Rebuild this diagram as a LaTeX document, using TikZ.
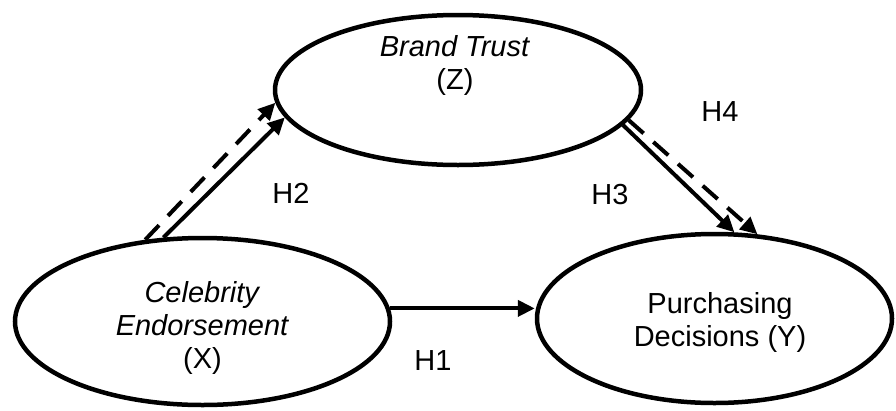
\documentclass[tikz,border=0pt]{standalone}
\usepackage{fontspec}
\setmainfont{Liberation Sans}
\usetikzlibrary{arrows.meta,shapes.geometric}
\tikzstyle{ovar}=[ellipse,draw=black,line width=4.5pt,inner sep=0pt]
\tikzstyle{otext}=[align=center,inner sep=0pt,font=\fontsize{29}{33}\selectfont]
\tikzstyle{hlab}=[inner sep=0pt,font=\fontsize{29}{33}\selectfont]
\tikzstyle{dgraph}=[-{Triangle[length=17pt,width=16pt]}, line width=4pt]
\tikzstyle{dgdash}=[dgraph,dash pattern=on 20pt off 13pt]

\begin{document}
\begin{tikzpicture}[x=1pt,y=-1pt]
\useasboundingbox (0,0) rectangle (896,410);
\node[ovar,minimum width=375pt,minimum height=167pt] (X) at (202.5,321.5) {};
\node[ovar,minimum width=366pt,minimum height=150pt] (Z) at (458,90) {};
\node[ovar,minimum width=355pt,minimum height=169pt] (Y) at (714.5,318.5) {};
\node[otext] (Xt) at (202.5,328) {\textit{Celebrity}\\\textit{Endorsement}\\(X)};
\node[otext] (Zt) at (455,65) {\textit{Brand Trust}\\(Z)};
\node[otext] (Yt) at (720,322) {Purchasing\\Decisions (Y)};
\node[hlab] (h1) at (433,361) {H1};
\node[hlab] (h2) at (291,193) {H2};
\node[hlab] (h3) at (610,195) {H3};
\node[hlab] (h4) at (720,112) {H4};
\draw[dgraph](X.4)--(X.4 -| Y.west);
\draw[dgraph](X.115)--(Z.189);\draw[dgdash](X.125)--(Z.184);
\draw[dgraph](Z.348)--(Y.77);\draw[dgdash](Z.350)--(Y.63);
\end{tikzpicture}
\end{document}
